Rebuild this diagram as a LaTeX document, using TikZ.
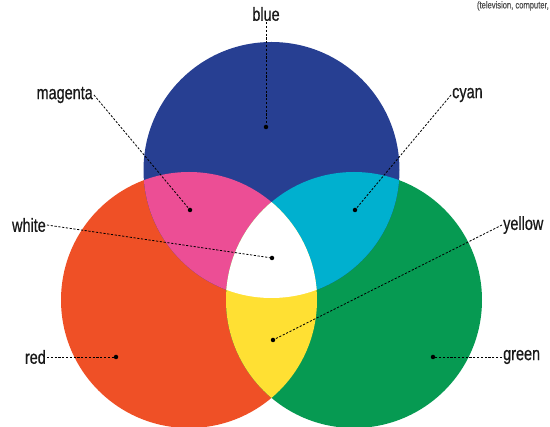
\documentclass[tikz,border=0pt]{standalone}
\usepackage{fontspec}
\setmainfont{Liberation Sans}[FakeStretch=0.76, FakeBold=0.6]

\definecolor{rgbblue}{HTML}{273F92}
\definecolor{rgbred}{HTML}{EF5026}
\definecolor{rgbgreen}{HTML}{069A52}
\definecolor{rgbmagenta}{HTML}{EC4E95}
\definecolor{rgbcyan}{HTML}{00B0CF}
\definecolor{rgbyellow}{HTML}{FFE033}

\tikzset{
	dot/.style={circle, fill=black, inner sep=0pt, minimum size=4.5pt},
	lbl/.style={font=\fontsize{19}{21}\selectfont, text=black!90, inner sep=1pt},
	pointer/.style={dash pattern=on 2.2pt off 1.6pt, line width=0.8pt}
}

\begin{document}
\begin{tikzpicture}[x=1pt, y=-1pt]
	\useasboundingbox (0,0) rectangle (550,427);
	% the three circles
	\def\rad{128pt}
	\fill [rgbred] (189,300) circle [radius=\rad];
	\fill [rgbgreen] (354,300) circle [radius=\rad];
	\fill [rgbblue] (271.5,170) circle [radius=\rad];
	% overlaps
	\begin{scope}
		\clip (271.5,170) circle [radius=\rad];
		\fill [rgbmagenta] (189,300) circle [radius=\rad];
		\fill [rgbcyan] (354,300) circle [radius=\rad];
	\end{scope}
	\begin{scope}
		\clip (189,300) circle [radius=\rad];
		\fill [rgbyellow] (354,300) circle [radius=\rad];
		\clip (354,300) circle [radius=\rad];
		\fill [white] (271.5,170) circle [radius=\rad];
	\end{scope}
	% dots
	\node [dot] (dblue) at (266,127) {};
	\node [dot] (dmagenta) at (190,210) {};
	\node [dot] (dcyan) at (355,210) {};
	\node [dot] (dwhite) at (272,258) {};
	\node [dot] (dyellow) at (273,340) {};
	\node [dot] (dred) at (116,357) {};
	\node [dot] (dgreen) at (433,357) {};
	% labels
	\node [lbl] (lblue) at (266,14) {blue};
	\node [lbl, anchor=east] (lmagenta) at (94,95) {magenta};
	\node [lbl, anchor=west] (lcyan) at (451,95) {cyan};
	\node [lbl, anchor=east] (lwhite) at (47,225) {white};
	\node [lbl, anchor=west] (lyellow) at (502,225) {yellow};
	\node [lbl, anchor=east] (lred) at (47,357) {red};
	\node [lbl, anchor=west] (lgreen) at (502,357) {green};
	\node [font=\fontsize{10}{12}\selectfont, text=black!70, anchor=north east, inner sep=0pt] (note) at (549,1) {(television, computer,};
	% pointers
	\draw [pointer] (lblue.south) -- (dblue);
	\draw [pointer] (lmagenta.east) -- (dmagenta);
	\draw [pointer] (lcyan.west) -- (dcyan);
	\draw [pointer] (lwhite.east) -- (dwhite);
	\draw [pointer] (lyellow.west) -- (dyellow);
	\draw [pointer] (lred.east) -- (dred);
	\draw [pointer] (lgreen.west) -- (dgreen);
\end{tikzpicture}
\end{document}
